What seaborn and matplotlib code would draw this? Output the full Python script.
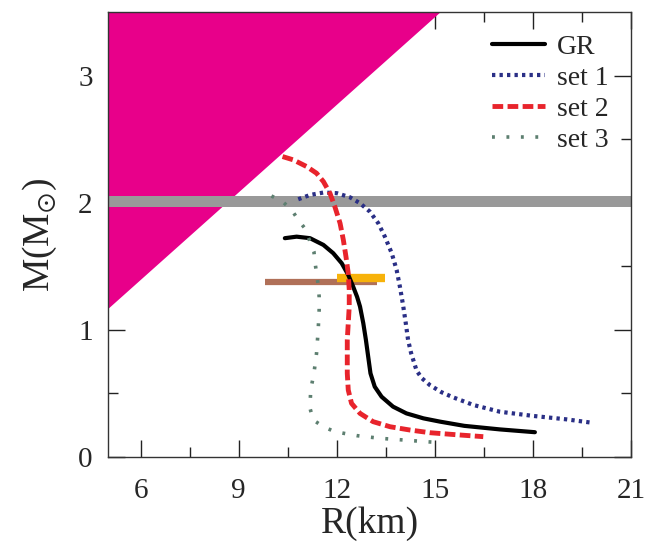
import numpy as np
import pandas as pd
import matplotlib
matplotlib.use("Agg")
import matplotlib.pyplot as plt
import seaborn as sns

# ---- data ----
gr_R = [10.41, 10.77, 11.18, 11.59, 11.89, 12.15, 12.35, 12.50, 12.62, 12.71, 12.81, 12.89,
        12.96, 13.03, 13.16, 13.37, 13.72, 14.13, 14.65, 15.16, 15.9, 16.99, 18.06]
gr_M = [1.721, 1.733, 1.721, 1.668, 1.603, 1.524, 1.432, 1.340, 1.26, 1.183, 1.052, 0.921,
        0.789, 0.658, 0.553, 0.474, 0.396, 0.343, 0.304, 0.278, 0.245, 0.217, 0.195]

set1_R = [10.82, 11.18, 11.59, 12.0, 12.40, 12.71, 13.01, 13.27, 13.47, 13.68, 13.83, 13.93,
          14.03, 14.11, 14.18, 14.27, 14.44, 14.6, 14.85, 15.2, 15.55, 16.18, 16.99, 18.01,
          19.03, 19.79]
set1_M = [2.027, 2.061, 2.080, 2.075, 2.043, 1.996, 1.930, 1.838, 1.733, 1.603, 1.471, 1.340,
          1.19, 1.052, 0.921, 0.82, 0.68, 0.62, 0.565, 0.51, 0.47, 0.409, 0.356, 0.323,
          0.296, 0.270]

set2_R = [10.34, 10.67, 11.08, 11.38, 11.59, 11.79, 11.94, 12.10, 12.2, 12.28, 12.35, 12.38,
          12.38, 12.35, 12.32, 12.32, 12.32, 12.35, 12.45, 12.71, 13.11, 13.63, 14.24, 14.85,
          15.66, 16.48]
set2_M = [2.363, 2.337, 2.284, 2.232, 2.166, 2.075, 1.969, 1.838, 1.707, 1.576, 1.445, 1.314,
          1.183, 1.052, 0.921, 0.789, 0.658, 0.527, 0.422, 0.343, 0.278, 0.238, 0.212, 0.191,
          0.175, 0.160]

set3_R = [10.0, 10.34, 10.62, 10.82, 11.02, 11.18, 11.30, 11.33, 11.38, 11.43, 11.46, 11.46,
          11.43, 11.38, 11.30, 11.20, 11.18, 11.28, 11.59, 11.94, 12.61, 13.32, 14.03, 14.75,
          15.05]
set3_M = [2.053, 2.009, 1.943, 1.865, 1.799, 1.694, 1.615, 1.537, 1.445, 1.353, 1.261, 1.157,
          0.999, 0.816, 0.658, 0.527, 0.383, 0.291, 0.238, 0.199, 0.168, 0.147, 0.134, 0.120,
          0.115]

causal_R = [5.0, 15.15]
causal_M = [1.17, 3.5]

band_M = [1.97, 2.05]

brown_R = [9.8, 13.23]
brown_M = 1.375
orange_R = [12.0, 13.47]
orange_M = 1.41

labels = ["GR", "set 1", "set 2", "set 3"]

# ---- style ----
sns.set_style("ticks")
plt.rcParams["font.family"] = ["Liberation Serif", "DejaVu Serif"]
plt.rcParams["mathtext.fontset"] = "stix"

fig = plt.figure(figsize=(6.47, 5.51), dpi=100)
ax = fig.add_axes([108/647, 1 - 457/551, (631-108)/647, (457-12)/551])

# causality region
ax.fill_between(causal_R, causal_M, [3.5, 3.5], color="#e8008a", lw=0, zorder=1)
# 2 Msun band
ax.axhspan(band_M[0], band_M[1], color="#999999", lw=0, zorder=1.5)
# bars
ax.plot(brown_R, [brown_M, brown_M], color="#b07058", lw=4.5, solid_capstyle="butt", zorder=2)
ax.plot(orange_R, [orange_M, orange_M], color="#f7b20a", lw=6, solid_capstyle="butt", zorder=2.1)

df = pd.concat([
    pd.DataFrame({"R": gr_R, "M": gr_M, "eos": labels[0]}),
    pd.DataFrame({"R": set1_R, "M": set1_M, "eos": labels[1]}),
    pd.DataFrame({"R": set2_R, "M": set2_M, "eos": labels[2]}),
    pd.DataFrame({"R": set3_R, "M": set3_M, "eos": labels[3]}),
])

styles = {
    "GR": dict(color="black", lw=3.0, ls="-"),
    "set 1": dict(color="#2a2f86", lw=3.0, ls=(0, (0.8, 1.0))),
    "set 2": dict(color="#e8242c", lw=3.5, ls=(0, (2.2, 0.9))),
    "set 3": dict(color="#5d7f70", lw=2.6, ls=(0, (0.8, 3.2))),
}
for lab in labels:
    sub = df[df.eos == lab]
    sns.lineplot(data=sub, x="R", y="M", ax=ax, sort=False, estimator=None,
                 label=lab, zorder=3, solid_joinstyle="round", dash_joinstyle="round",
                 **styles[lab])

ax.set_xlim(5, 21)
ax.set_ylim(0, 3.5)
ax.set_xticks([6, 9, 12, 15, 18, 21])
ax.set_xticks(np.arange(7.5, 21, 3), minor=True)
ax.set_yticks([0, 1, 2, 3])
ax.set_yticks([0.5, 1.5, 2.5], minor=True)
ax.tick_params(which="both", direction="in", top=True, right=True, labelsize=21,
               color="#222222", width=1.0)
ax.tick_params(axis="x", which="major", pad=15)
ax.tick_params(axis="y", which="major", pad=11)
ax.tick_params(which="major", length=12)
ax.tick_params(which="minor", length=7)
for s in ax.spines.values():
    s.set_color("#333333")
    s.set_linewidth(1.0)

ax.set_xlabel("R(km)", fontsize=27, labelpad=2)
ax.set_ylabel(r"M(M$_{\odot}$)", fontsize=27, labelpad=14)

leg = ax.legend(loc="upper right", frameon=False, fontsize=20, handlelength=1.9,
                handletextpad=0.45, labelspacing=0.2, borderaxespad=0.4,
                bbox_to_anchor=(1.0, 1.0))

fig.savefig("out.png", dpi=100)
